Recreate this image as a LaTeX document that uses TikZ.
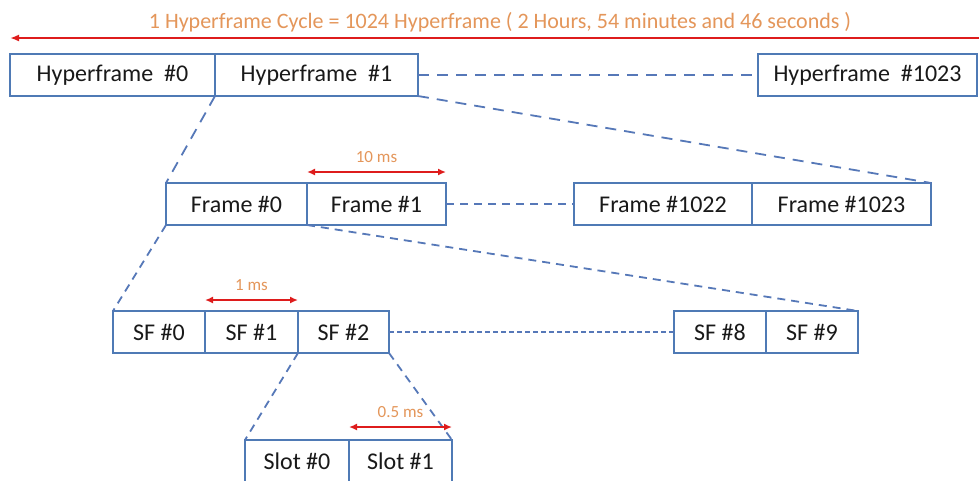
\documentclass[tikz,border=0pt]{standalone}
\usepackage{fontspec}
\setmainfont{Carlito}
\usetikzlibrary{arrows.meta}
\definecolor{boxblue}{RGB}{79,122,181}
\definecolor{linkblue}{RGB}{86,120,184}
\definecolor{dimred}{RGB}{222,28,28}
\definecolor{dimtext}{RGB}{228,150,90}
\definecolor{celltext}{RGB}{25,25,25}
\tikzset{
  cell/.style={draw=boxblue, line width=1.8pt, rectangle, inner sep=0pt, outer sep=0pt,
               minimum height=42pt, font=\fontsize{24}{28}\selectfont, text=celltext},
  hflink/.style={draw=linkblue, line width=1.8pt, dash pattern=on 11pt off 8pt},
  flink/.style={draw=linkblue, line width=1.8pt, dash pattern=on 8pt off 6pt},
  sflink/.style={draw=linkblue, line width=1.6pt, dash pattern=on 5pt off 3pt},
  dim/.style={draw=dimred, line width=1.8pt, {Latex[length=8pt,width=7pt]}-{Latex[length=8pt,width=7pt]}},
  dimlabel/.style={text=dimtext, font=\fontsize{17}{20}\selectfont, inner sep=0pt}
}
\begin{document}
\begin{tikzpicture}[x=1pt,y=-1pt]
\useasboundingbox[fill=white] (0,0) rectangle (979,480);

% overall cycle
\coordinate (cycR) at (979,38);
\coordinate (cycL) at (10,38);
\draw[draw=dimred, line width=1.8pt, -{Latex[length=9pt,width=7pt]}] (cycR) -- (cycL);
\node[text=dimtext, font=\fontsize{22}{26}\selectfont, inner sep=0pt] (cyclabel) at (500,22)
  {1 Hyperframe Cycle = 1024 Hyperframe ( 2 Hours, 54 minutes and 46 seconds )};

% hyperframes
\node[cell, minimum width=205pt] (hf0) at (112.5,75) {Hyperframe\ \ \#0};
\node[cell, minimum width=203pt] (hf1) at (316.5,75) {Hyperframe\ \ \#1};
\node[cell, minimum width=219pt] (hf1023) at (867.5,75) {Hyperframe\ \ \#1023};

% frames
\node[cell, minimum width=141pt] (f0) at (236.5,204) {Frame \#0};
\node[cell, minimum width=139pt] (f1) at (376.5,204) {Frame \#1};
\node[cell, minimum width=178pt] (f1022) at (663,204) {Frame \#1022};
\node[cell, minimum width=179pt] (f1023) at (841.5,204) {Frame \#1023};

% subframes
\node[cell, minimum width=92pt] (sf0) at (159,332) {SF \#0};
\node[cell, minimum width=93pt] (sf1) at (251.5,332) {SF \#1};
\node[cell, minimum width=91pt] (sf2) at (343.5,332) {SF \#2};
\node[cell, minimum width=92pt] (sf8) at (720,332) {SF \#8};
\node[cell, minimum width=92pt] (sf9) at (812,332) {SF \#9};

% slots
\node[cell, minimum width=104pt] (s0) at (297,461) {Slot \#0};
\node[cell, minimum width=103pt] (s1) at (400.5,461) {Slot \#1};

% continuation and zoom links
\draw[hflink] (hf1.east) -- (hf1023.west);
\draw[hflink] (hf1.south west) -- (f0.north west);
\draw[hflink] (hf1.south east) -- (f1023.north east);

\draw[flink] (f1.east) -- (f1022.west);
\draw[flink] (f0.south west) -- (sf0.north west);
\draw[flink] (f1.south west) -- (sf9.north east);

\draw[sflink] (sf2.east) -- (sf8.west);
\draw[flink] (sf2.south west) -- (s0.north west);
\draw[flink] (sf2.south east) -- (s1.north east);

% durations
\draw[dim] ([yshift=11pt]f1.north west) -- ([yshift=11pt]f1.north east);
\node[dimlabel] (l10) at (376.5,157) {10 ms};
\draw[dim] ([yshift=11pt]sf1.north west) -- ([yshift=11pt]sf1.north east);
\node[dimlabel] (l1) at (251.5,285) {1 ms};
\draw[dim] ([yshift=13pt]s1.north west) -- ([yshift=13pt]s1.north east);
\node[dimlabel] (l05) at (400.5,412) {0.5 ms};
\end{tikzpicture}
\end{document}
